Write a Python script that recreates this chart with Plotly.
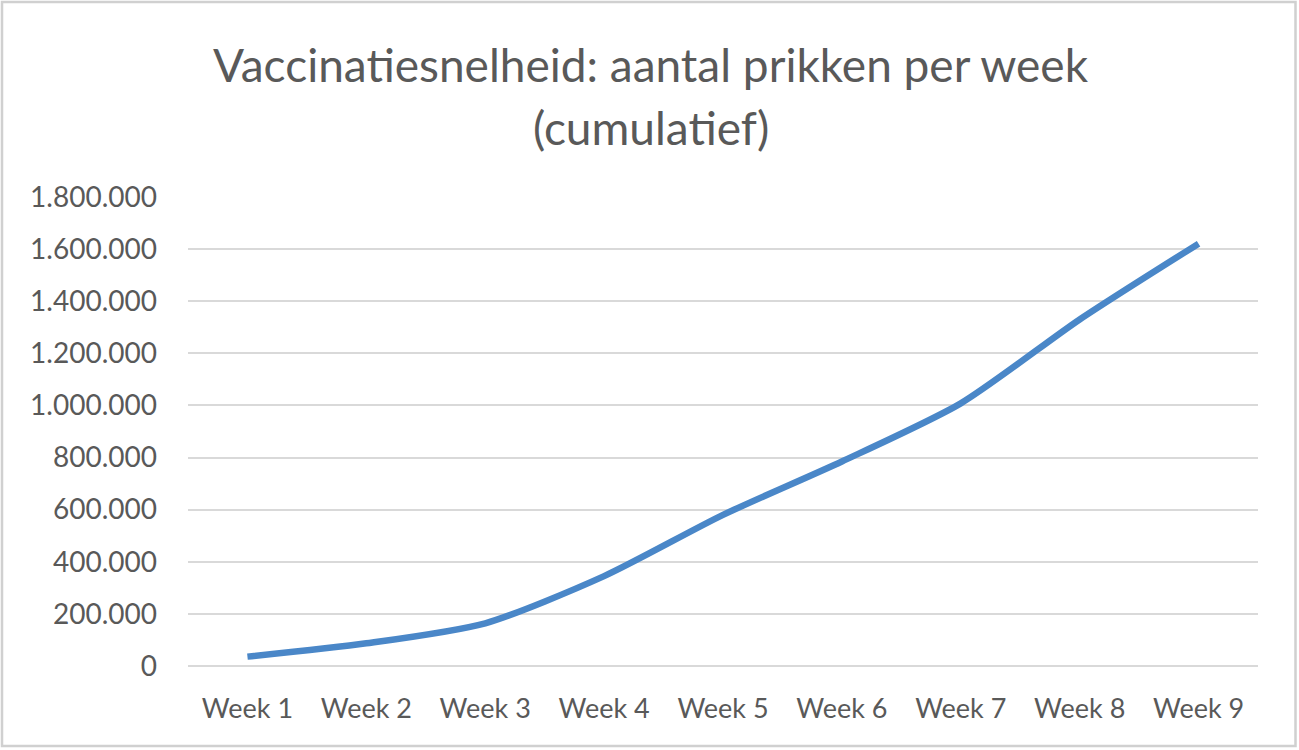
import plotly.graph_objects as go

weeks = ["Week 1", "Week 2", "Week 3", "Week 4", "Week 5", "Week 6", "Week 7", "Week 8", "Week 9"]
prikken = [36000, 87000, 164000, 345000, 580000, 785000, 1008000, 1330000, 1621000]
y_ticks = [0, 200000, 400000, 600000, 800000, 1000000, 1200000, 1400000, 1600000, 1800000]
title_lines = ["Vaccinatiesnelheid: aantal prikken per week", "(cumulatief)"]

W, H = 1299, 750
L, R, T, B = 188, 41, 197, 84
pw, ph = W - L - R, H - T - B


def py(px):
    return (T + ph - px) / ph


def pxx(px):
    return (px - L) / pw


fig = go.Figure()
fig.add_trace(go.Scatter(
    x=weeks, y=prikken, mode="lines",
    line=dict(color="#4a87c8", width=6.5, shape="spline", smoothing=0.7),
    hoverinfo="x+y", showlegend=False,
))

font_family = "Lato, 'Open Sans', sans-serif"
annotations = []
for text, cy in zip(title_lines, [64, 127]):
    annotations.append(dict(
        text=text, xref="paper", yref="paper",
        x=pxx(651), y=py(cy), xanchor="center", yanchor="middle",
        showarrow=False,
        font=dict(family=font_family, size=46, color="#595959"),
    ))

fig.update_layout(
    width=W, height=H,
    margin=dict(l=L, r=R, t=T, b=B, autoexpand=False),
    paper_bgcolor="white", plot_bgcolor="white",
    separators=",.",
    font=dict(family=font_family, color="#595959", size=27),
    annotations=annotations,
    xaxis=dict(
        type="category", range=[-0.5, len(weeks) - 0.5],
        showgrid=False, showline=False, zeroline=False, ticks="",
        tickfont=dict(size=27, color="#595959"),
        ticklabelstandoff=24,
    ),
    yaxis=dict(
        range=[0, 1800000], tickvals=y_ticks, tickformat=",d",
        showgrid=True, gridcolor="#d9d9d9", gridwidth=2,
        zeroline=True, zerolinecolor="#d9d9d9", zerolinewidth=2,
        showline=False, ticks="",
        tickfont=dict(size=28, color="#595959"),
        ticklabelstandoff=30,
    ),
    shapes=[dict(
        type="rect", xref="paper", yref="paper",
        x0=pxx(2), x1=pxx(1295.5),
        y0=py(746), y1=py(2),
        line=dict(color="#d0d0d0", width=2.5), fillcolor="rgba(0,0,0,0)",
        layer="below",
    )],
)

fig.write_html("out.html")
